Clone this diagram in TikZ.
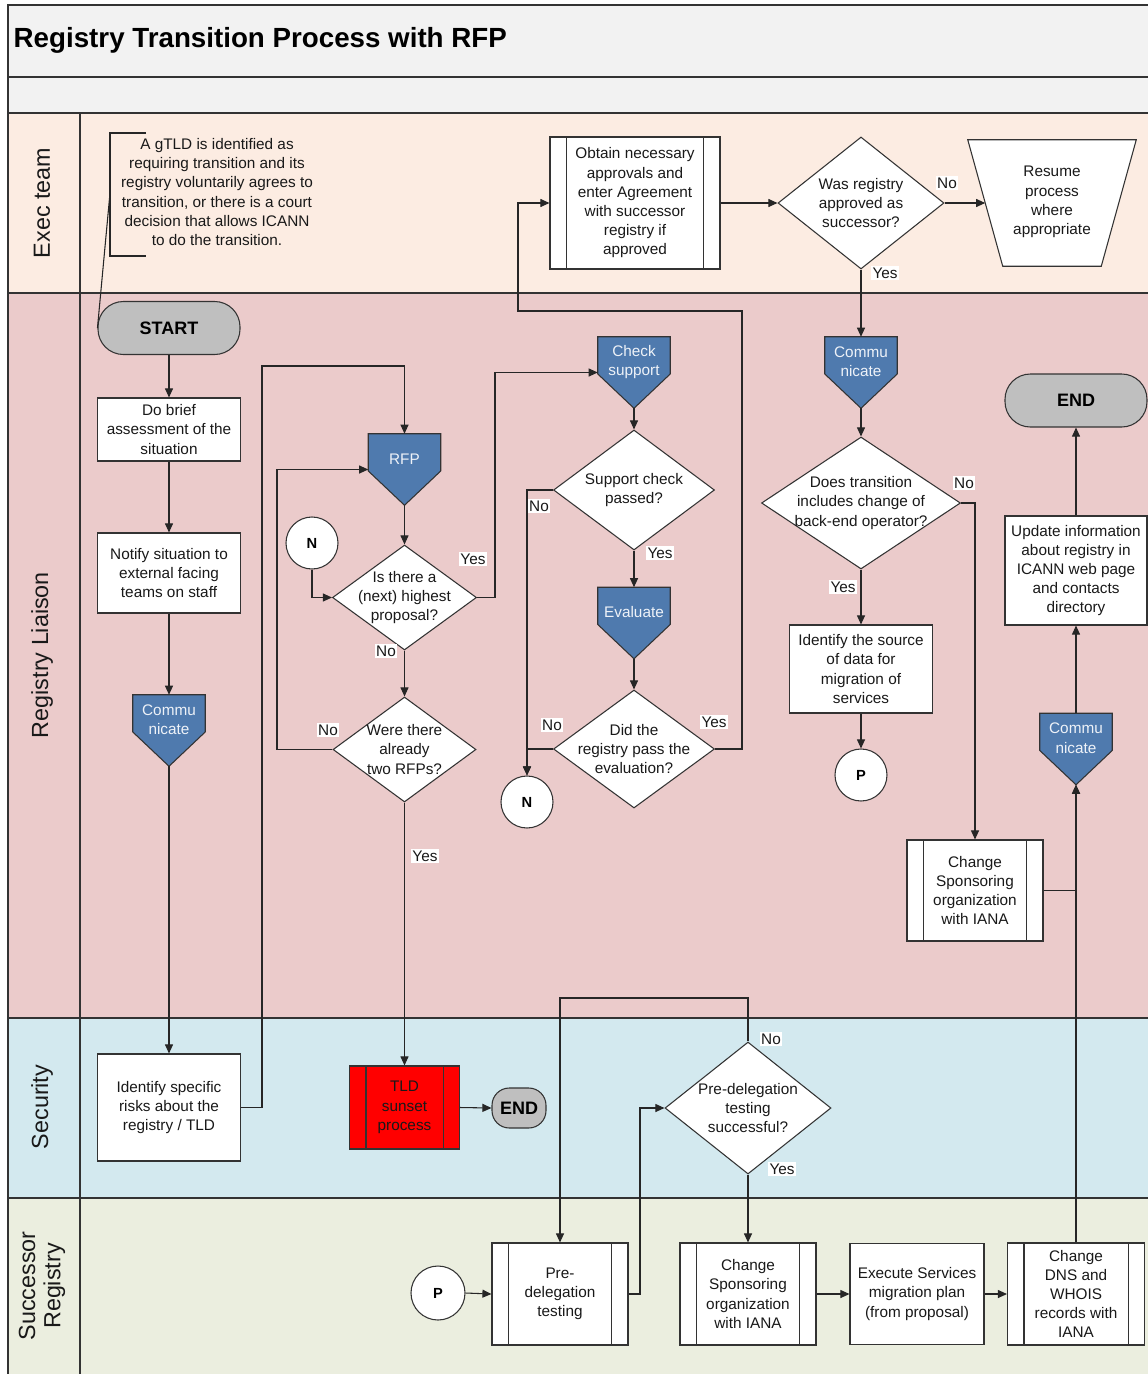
\documentclass[tikz,border=0pt]{standalone}
\usepackage{fontspec}
\setmainfont{Liberation Sans}
\usetikzlibrary{shapes.geometric,arrows.meta,calc}
\def\pxu{0.75pt}
\definecolor{titlebg}{HTML}{F2F2F2}
\definecolor{execbg}{HTML}{FCECE2}
\definecolor{liaisonbg}{HTML}{EBCBCB}
\definecolor{secbg}{HTML}{D3E9EF}
\definecolor{succbg}{HTML}{EBEEDF}
\definecolor{offblue}{HTML}{4F7AAE}
\definecolor{termgray}{HTML}{BFBFBF}
\definecolor{sunset}{HTML}{FF0000}
\definecolor{offtxt}{HTML}{EEF2F8}
\newcommand{\txtf}{\fontsize{11.5}{14.4}\selectfont}
\tikzset{
  every node/.style={font=\txtf, text=black!90},
  sz/.style 2 args={minimum width=#1*\pxu, minimum height=#2*\pxu},
  frame/.style={draw=black!80, line width=0.9pt},
  box/.style={rectangle, draw=black!80, fill=white, line width=0.8pt, align=center, inner sep=1pt},
  dia/.style={diamond, draw=black!80, fill=white, line width=0.8pt, inner sep=0pt},
  dtext/.style={align=center, inner sep=0pt},
  term/.style={rectangle, rounded corners=19pt, draw=black!80, fill=termgray, line width=0.8pt, inner sep=0pt, text=black, font=\bfseries\fontsize{13.5}{15}\selectfont},
  conn/.style={circle, draw=black!80, fill=white, line width=0.8pt, minimum size=52*\pxu, inner sep=0pt, text=black, font=\bfseries\fontsize{11}{13}\selectfont},
  offbox/.style={rectangle, inner sep=0pt, minimum width=72*\pxu, minimum height=71*\pxu},
  offtext/.style={align=center, text=offtxt, inner sep=0pt},
  arr/.style={draw=black!85, line width=0.8pt, -{Triangle[length=6.8pt,width=6pt]}},
  ln/.style={draw=black!85, line width=0.8pt},
  yn/.style={fill=white, inner sep=1pt},
  lane/.style={rotate=90, font=\fontsize{17.5}{19}\selectfont, align=center}
}
\newcommand{\subl}[1]{\draw[line width=0.8pt, draw=black!80] ([xshift=12.75pt]#1.north west) -- ([xshift=12.75pt]#1.south west) ([xshift=-12.75pt]#1.north east) -- ([xshift=-12.75pt]#1.south east);}
\newcommand{\offpg}[3]{%
  \node[offbox] (#1) at (#2) {};
  \filldraw[fill=offblue, draw=black!80, line width=0.8pt] (#1.north west) -- (#1.north east) -- ($(#1.north east)!0.52!(#1.south east)$) -- (#1.south) -- ($(#1.north west)!0.52!(#1.south west)$) -- cycle;
  \node[offtext] (#1-t) at ($(#1.north)!0.35!(#1.south)$) {#3};
}
\begin{document}
\begin{tikzpicture}[x=0.75pt,y=-0.75pt]
\useasboundingbox (0,0) rectangle (1147,1374);
% lanes
\fill[titlebg] (8,5) rectangle (1160,113);
\fill[execbg] (8,113) rectangle (1160,293);
\fill[liaisonbg] (8,293) rectangle (1160,1018);
\fill[secbg] (8,1018) rectangle (1160,1198);
\fill[succbg] (8,1198) rectangle (1160,1380);
\draw[frame] (8,1380) -- (8,5) -- (1160,5);
\draw[frame] (8,77) -- (1160,77) (8,113) -- (1160,113) (8,293) -- (1160,293)
  (8,1018) -- (1160,1018) (8,1198) -- (1160,1198) (80,113) -- (80,1380);

\node[anchor=west, font=\bfseries\fontsize{20.8}{24}\selectfont, text=black] (title) at (9,40) {Registry Transition Process with RFP};

\node[lane] (lexec) at (42,203) {Exec team};
\node[lane] (lliaison) at (42,655) {Registry Liaison};
\node[lane] (lsec) at (42,1107) {Security};
\node[lane] (lsucc) at (42,1286) {Successor\\Registry};

% annotation
\node[align=center, inner sep=0pt] (annot) at (217,192) {A gTLD is identified as\\requiring transition and its\\registry voluntarily agrees to\\transition, or there is a court\\decision that allows ICANN\\to do the transition.};
\draw[ln] (146,133) -- (110,133) -- (110,256) -- (146,256);
\coordinate (brk) at (110,193);

% exec lane
\node[box, sz={170}{132}] (obtain) at (635,203) {Obtain necessary\\approvals and\\enter Agreement\\with successor\\registry if\\approved}; \subl{obtain}
\node[dia, sz={166}{132}, label={[dtext]center:{Was registry\\approved as\\successor?}}] (dwas) at (861,203) {};
\node[rectangle, inner sep=0pt, sz={168}{126}] (resume) at (1052,203) {};
\filldraw[fill=white, draw=black!80, line width=0.8pt] (resume.north west) -- (resume.north east) -- ([xshift=-26.25pt]resume.south east) -- ([xshift=26.25pt]resume.south west) -- cycle;
\node[align=center] (resume-t) at (1052,202) {Resume\\process\\where\\appropriate};

% registry liaison lane
\node[term, sz={142}{53}] (start) at (169,328) {START};
\node[box, sz={143}{63}] (dobrief) at (169,429.5) {Do brief\\assessment of the\\situation};
\node[box, sz={143}{80}] (notify) at (169,573) {Notify situation to\\external facing\\teams on staff};
\offpg{comm1}{169,730.5}{Commu\\nicate}
\offpg{rfp}{404.5,469.5}{RFP}
\node[conn] (n1) at (312,543) {N};
\node[dia, sz={144}{105}, label={[dtext]center:{Is there a\\(next) highest\\proposal?}}] (dnext) at (404.5,597.5) {};
\node[dia, sz={143}{105}, label={[dtext]center:{Were there\\already\\two RFPs?}}] (dtwo) at (404.5,749.5) {};
\offpg{check}{634,372.5}{Check\\support}
\node[dia, sz={161}{120}, label={[dtext]center:{Support check\\passed?}}] (dsup) at (634,490) {};
\offpg{eval}{634,623}{Evaluate}
\node[dia, sz={161}{118}, label={[dtext]center:{Did the\\registry pass the\\evaluation?}}] (dpass) at (634,749) {};
\node[conn] (n2) at (527,802) {N};
\offpg{comm2}{861,372.5}{Commu\\nicate}
\node[dia, sz={199}{132}, label={[dtext]center:{Does transition\\includes change of\\back-end operator?}}] (dback) at (861,503) {};
\node[box, sz={143}{88}] (idsrc) at (861,669) {Identify the source\\of data for\\migration of\\services};
\node[conn] (p1) at (861,775) {P};
\node[box, sz={136}{101}] (chg1) at (975,890.5) {Change\\Sponsoring\\organization\\with IANA}; \subl{chg1}
\offpg{comm3}{1076,749}{Commu\\nicate}
\node[box, sz={142}{109}] (update) at (1076,570.5) {Update information\\about registry in\\ICANN web page\\and contacts\\directory};
\node[term, sz={142}{53}] (endbig) at (1076,400.5) {END};

% security lane
\node[box, sz={143}{107}] (idrisk) at (169,1107.5) {Identify specific\\risks about the\\registry / TLD};
\node[box, fill=sunset, sz={110}{83}] (tld) at (404.5,1107.5) {TLD\\sunset\\process}; \subl{tld}
\node[term, rounded corners=13pt, sz={54}{40}] (endsm) at (519,1108) {END};
\node[dia, sz={166}{132}, label={[dtext]center:{Pre-delegation\\testing\\successful?}}] (dpre) at (748,1108) {};

% successor lane
\node[conn, minimum size=54*\pxu] (p2) at (438,1293) {P};
\node[box, sz={136}{102}] (predel) at (560,1294) {Pre-\\delegation\\testing}; \subl{predel}
\node[box, sz={136}{102}] (chg2) at (748,1294) {Change\\Sponsoring\\organization\\with IANA}; \subl{chg2}
\node[box, sz={134}{101}] (exec) at (917,1294) {Execute Services\\migration plan\\(from proposal)};
\node[box, sz={137}{102}] (dns) at (1076,1294) {Change\\DNS and\\WHOIS\\records with\\IANA}; \subl{dns}

% connectors
\draw[ln] (brk) -- (start.west);
\draw[arr] (start.south) -- (dobrief.north);
\draw[arr] (dobrief.south) -- (notify.north);
\draw[arr] (notify.south) -- (comm1.north);
\draw[arr] (comm1.south) -- (idrisk.north);
\coordinate (w1) at (262,366);
\draw[arr] (idrisk.east) -| (w1) -| (rfp.north);
\draw[arr] (rfp.south) -- (dnext.north);
\draw[arr] (n1.south) |- (dnext.west);
\coordinate (w2) at (495,372.5);
\draw[arr] (dnext.east) -| (w2) -- (check.west);
\draw[arr] (dnext.south) -- (dtwo.north);
\coordinate (w3) at (277,469.5);
\draw[arr] (dtwo.west) -| (w3) -- (rfp.west);
\draw[arr] (dtwo.south) -- (tld.north);
\draw[arr] (tld.east) -- (endsm.west);
\draw[arr] (check.south) -- (dsup.north);
\draw[arr] (dsup.west) -| (n2.north);
\draw[arr] (dsup.south) -- (eval.north);
\draw[arr] (eval.south) -- (dpass.north);
\draw[arr] (dpass.west) -| (n2.north);
\coordinate (w5) at (742,311);
\coordinate (w6) at (518,311);
\draw[arr] (dpass.east) -| (w5) -- (w6) |- (obtain.west);
\draw[arr] (obtain.east) -- (dwas.west);
\draw[arr] (dwas.east) -- ([xshift=13.1pt]resume.west);
\draw[arr] (dwas.south) -- (comm2.north);
\draw[arr] (comm2.south) -- (dback.north);
\draw[arr] (dback.east) -| (chg1.north);
\draw[arr] (dback.south) -- (idsrc.north);
\draw[arr] (idsrc.south) -- (p1.north);
\draw[arr] (chg1.east) -| (comm3.south);
\draw[arr] (comm3.north) -- (update.south);
\draw[arr] (update.north) -- (endbig.south);
\coordinate (w7) at (560,998);
\draw[arr] (dpre.north) |- (w7) -- (predel.north);
\draw[arr] (dpre.south) -- (chg2.north);
\draw[arr] (p2.east) -- (predel.west);
\coordinate (w8) at (640,1200);
\draw[arr] (predel.east) -| (w8) |- (dpre.west);
\draw[arr] (chg2.east) -- (exec.west);
\draw[arr] (exec.east) -- (dns.west);
\draw[arr] (dns.north) -- (comm3.south);

% yes/no labels
\node[yn] (y1) at (473,559) {Yes};
\node[yn] (n1l) at (386,651) {No};
\node[yn] (n2l) at (328,730) {No};
\node[yn] (y2) at (425,856) {Yes};
\node[yn] (n3l) at (539,506) {No};
\node[yn] (y3) at (660,553) {Yes};
\node[yn] (n4l) at (552,725) {No};
\node[yn] (y4) at (714,722) {Yes};
\node[yn] (n5l) at (947,183) {No};
\node[yn] (y5) at (885,273) {Yes};
\node[yn] (n6l) at (964,483) {No};
\node[yn] (y6) at (843,587) {Yes};
\node[yn] (n7l) at (771,1039) {No};
\node[yn] (y7) at (782,1169) {Yes};
\end{tikzpicture}
\end{document}
